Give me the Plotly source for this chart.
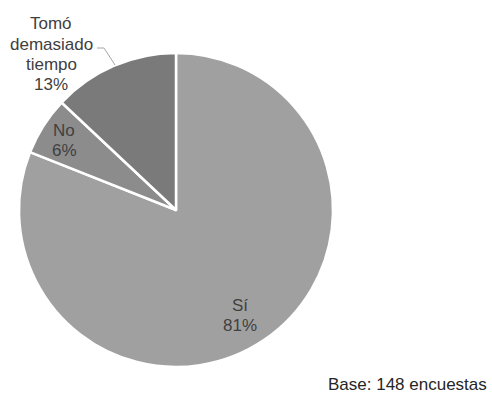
import plotly.graph_objects as go

# Survey answers, in drawing order (clockwise from 12 o'clock)
categories = ["Sí", "No", "Tomó\ndemasiado\ntiempo"]
percentages = [81, 6, 13]
slice_colors = ["#a0a0a0", "#8c8c8c", "#7a7a7a"]
base_note = "Base: 148 encuestas"

W, H = 492, 396

def px(x):
    return x / W

def py(y):
    return 1 - y / H

fig = go.Figure(
    go.Pie(
        labels=[c.replace("\n", " ") for c in categories],
        values=percentages,
        sort=False,
        direction="clockwise",
        rotation=0,
        marker=dict(colors=slice_colors, line=dict(color="white", width=2.5)),
        textinfo="none",
        hoverinfo="label+percent",
        domain=dict(x=[px(19), px(333)], y=[py(367), py(53)]),
        showlegend=False,
    )
)

# Label block for each slice: (center x, y of first line) in pixels
label_pos = [(240, 305), (64, 130), (51, 24)]
line_gap = 20
annotations = []
for name, pct, (cx, cy) in zip(categories, percentages, label_pos):
    lines = name.split("\n") + [f"{pct}%"]
    for i, line in enumerate(lines):
        annotations.append(dict(
            x=px(cx), y=py(cy + i * line_gap), xref="paper", yref="paper",
            text=line, showarrow=False, xanchor="center", yanchor="middle",
            font=dict(family="Liberation Sans, Arial, sans-serif", size=17, color="#404040"),
        ))

annotations.append(dict(
    x=px(488), y=py(384), xref="paper", yref="paper", text=base_note,
    showarrow=False, xanchor="right", yanchor="middle", borderpad=0,
    font=dict(family="Liberation Sans, Arial, sans-serif", size=17, color="#262626"),
))

# Leader line from the outside label to its slice
leader = dict(
    type="path", xref="paper", yref="paper",
    path=f"M {px(97)} {py(48)} L {px(104)} {py(48)} L {px(115)} {py(65)}",
    line=dict(color="#a6a6a6", width=1),
)

fig.update_layout(
    width=W, height=H,
    margin=dict(l=0, r=0, t=0, b=0),
    paper_bgcolor="white", plot_bgcolor="white",
    annotations=annotations,
    shapes=[leader],
)

fig.write_html("out.html")
